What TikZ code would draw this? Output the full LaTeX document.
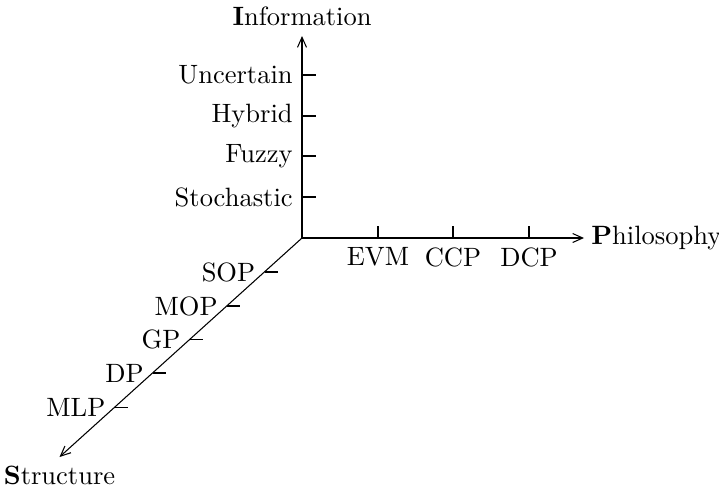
\documentclass[tikz,border=0pt]{standalone}
\usetikzlibrary{arrows.meta}
\begin{document}
\begin{tikzpicture}[x=0.3774pt,y=-0.3774pt,
  axis/.style={-{Straight Barb[length=3.8pt,width=3.4pt]}},
  tickline/.style={},
  lbl/.style={inner sep=3.33pt}]
\useasboundingbox (0,0) rectangle (719,486);
% axes
\coordinate (O) at (302,238);
\coordinate (Itip) at (302,36);
\coordinate (Ptip) at (584,238);
\coordinate (Stip) at (59.5,457);
\draw[axis] (O) -- (Itip);
\draw[axis] (O) -- (Ptip);
\draw[axis] (O) -- (Stip);
\node[lbl,anchor=south] (Ilab) at (302,35) {\textbf{I}nformation};
\node[lbl,anchor=west] (Plab) at (582,238) {\textbf{P}hilosophy};
\node[lbl,anchor=north] (Slab) at (Stip) {\textbf{S}tructure};
% information ticks
\foreach \yy/\name/\txt in {75/iu/Uncertain,116/ih/Hybrid,156/if/Fuzzy,197/is/Stochastic}{
  \coordinate (\name) at (302,\yy);
  \draw[tickline] (\name) -- ++(14,0);
  \node[lbl,anchor=east] (\name-l) at (\name) {\txt};
}
% philosophy ticks
\foreach \xx/\name/\txt in {378/pe/EVM,453/pc/CCP,529/pd/DCP}{
  \coordinate (\name) at (\xx,238);
  \draw[tickline] (\name) -- ++(0,-12);
  \node[lbl,anchor=north] (\name-l) at (\name) {\txt};
}
% structure ticks
\foreach \xx/\yy/\name/\txt in {264.5/272/ss/SOP,226.9/306/sm/MOP,189.8/339.5/sg/GP,152.9/373/sd/DP,114.7/407.5/sl/MLP}{
  \coordinate (\name) at (\xx,\yy);
  \draw[tickline] (\name) -- ++(13,0);
  \node[lbl,anchor=east] (\name-l) at (\name) {\txt};
}
\end{tikzpicture}
\end{document}
